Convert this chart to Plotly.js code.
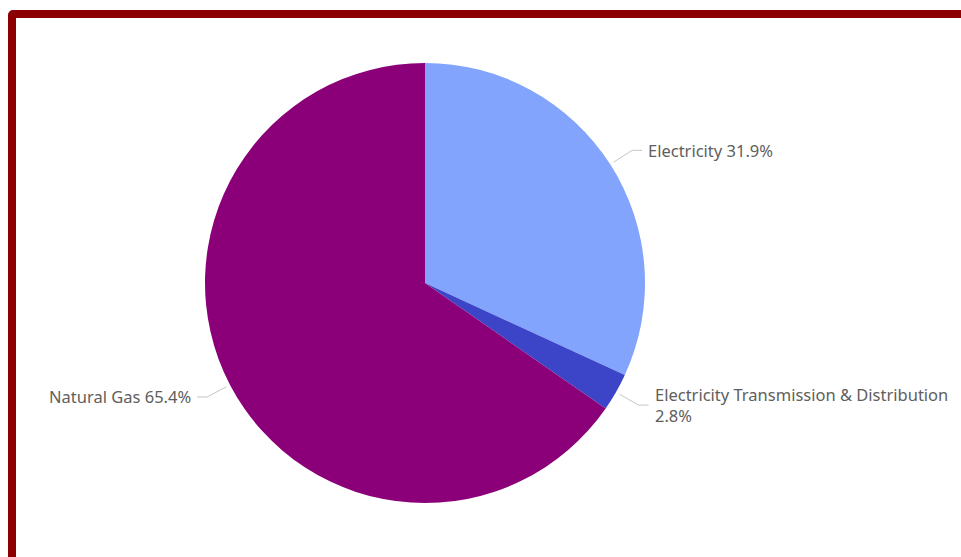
<!DOCTYPE html>
<html>
<head>
<meta charset="utf-8">
<script src="https://cdn.plot.ly/plotly-3.0.1.min.js"></script>
<style>
html,body{margin:0;padding:0;background:#fff;overflow:hidden;}
#frame{position:absolute;left:8px;top:10px;width:1000px;height:600px;border:8px solid #8b0000;border-radius:5px;box-sizing:border-box;pointer-events:none;z-index:5;}
#chart{position:absolute;left:0;top:0;width:961px;height:557px;}
</style>
</head>
<body>
<div id="chart"></div>
<div id="frame"></div>
<script>
const categories = ["Electricity", "Electricity Transmission & Distribution", "Natural Gas"];
const shares = [31.9, 2.8, 65.4];
const labelText = ["Electricity 31.9%", "Electricity Transmission & Distribution<br>2.8%", "Natural Gas 65.4%"];
const colors = ["#83a4fd", "#3c45c8", "#8b0079"];

const W = 961, H = 557;
const cx = 425, cy = 283, R = 220;

const total = shares.reduce((a, b) => a + b, 0);
const shapes = [], annotations = [];
let cum = 0;
shares.forEach((v, i) => {
  const mid = (cum + v / 2) / total * 2 * Math.PI;
  cum += v;
  const dx = Math.sin(mid), dy = -Math.cos(mid);
  const x1 = cx + (R + 4) * dx, y1 = cy + (R + 4) * dy;
  const x2 = cx + (R + 26) * dx, y2 = cy + (R + 26) * dy;
  const side = dx >= 0 ? 1 : -1;
  const x3 = x2 + side * 10;
  const px = x => x / W, py = y => 1 - y / H;
  shapes.push({
    type: "path", xref: "paper", yref: "paper",
    path: `M ${px(x1)} ${py(y1)} L ${px(x2)} ${py(y2)} L ${px(x3)} ${py(y2)}`,
    line: {color: "#c8c6c4", width: 1}
  });
  annotations.push({
    xref: "paper", yref: "paper", x: px(x3 + side * 4), y: py(y2),
    xanchor: side > 0 ? "left" : "right", yanchor: "middle", align: "left",
    showarrow: false, text: labelText[i],
    font: {family: "Noto Sans, sans-serif", size: 16.5, color: "#605e5c"}
  });
});

const data = [{
  type: "pie",
  labels: categories,
  values: shares,
  sort: false,
  direction: "clockwise",
  rotation: 0,
  marker: {colors: colors, line: {width: 0}},
  textinfo: "none",
  hoverinfo: "label+percent",
  showlegend: false,
  domain: {x: [(cx - R) / W, (cx + R) / W], y: [(H - cy - R) / H, (H - cy + R) / H]}
}];

const layout = {
  width: W, height: H,
  margin: {l: 0, r: 0, t: 0, b: 0},
  paper_bgcolor: "#ffffff",
  showlegend: false,
  shapes: shapes,
  annotations: annotations
};

Plotly.newPlot("chart", data, layout, {displayModeBar: false, staticPlot: true});
</script>
</body>
</html>
